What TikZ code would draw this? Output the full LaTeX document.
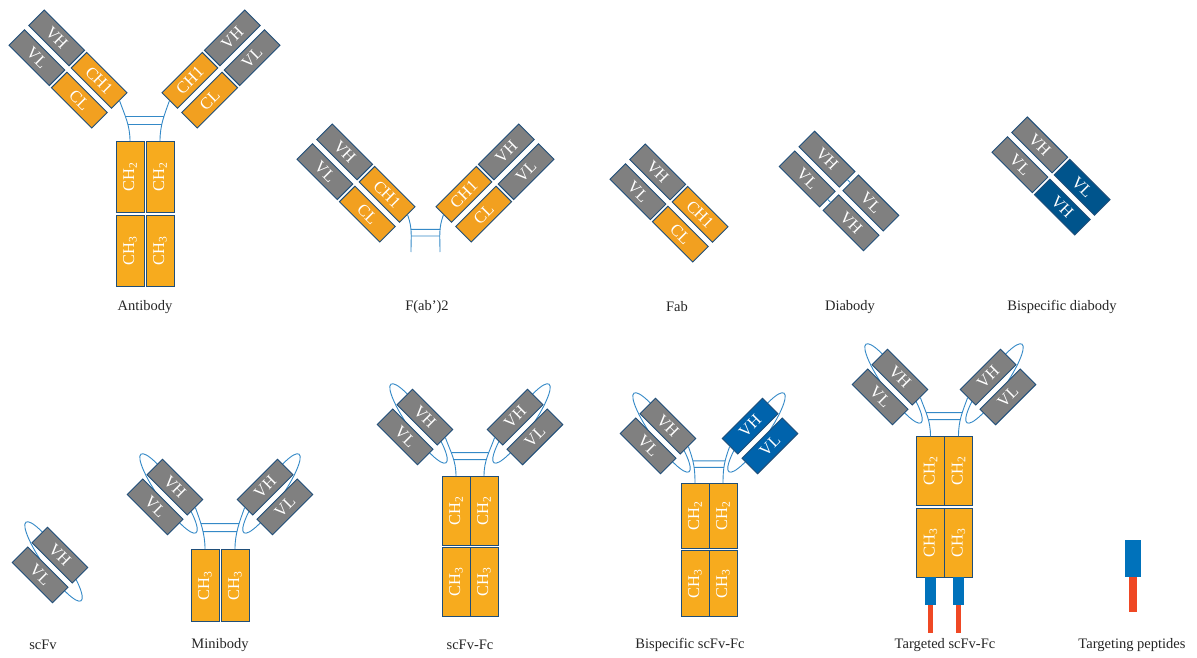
\documentclass[tikz,border=0pt]{standalone}
\usepackage{fontspec}
\setmainfont{Liberation Serif}
\usetikzlibrary{positioning}

\definecolor{domgray}{RGB}{128,128,128}
\definecolor{domedge}{RGB}{31,78,121}
\definecolor{armorange}{RGB}{242,160,32}
\definecolor{fcorange}{RGB}{247,171,30}
\definecolor{linkblue}{RGB}{52,137,199}
\definecolor{dbblue}{RGB}{0,84,140}
\definecolor{bsblue}{RGB}{0,99,172}
\definecolor{tagblue}{RGB}{0,114,187}
\definecolor{tagred}{RGB}{239,72,36}

\newcommand\boxfont{\fontsize{16.5}{17}\selectfont}
\newcommand\labfont{\fontsize{14.5}{16}\selectfont}

% Fab arm: name, centre, angle, x of VH/VL, x of CH1/CL
\newcommand\fabarm[5]{%
  \begin{scope}[shift={#2},rotate=#3,transform shape]
    \node[vdom] (#1-vh) at (#4,-14) {VH};
    \node[vdom] (#1-vl) at (#4,14) {VL};
    \node[cdom] (#1-ch) at (#5,-14) {CH1};
    \node[cdom] (#1-cl) at (#5,14) {CL};
  \end{scope}}

% scFv: name, centre, angle, tilt of the linker loop, box style
\newcommand\scfvpair[5]{%
  \begin{scope}[shift={#2},rotate=#3,transform shape]
    \draw[link,rotate around={#4:(0,-5)}] (0,-5) ellipse [x radius=48pt,y radius=10pt];
    \node[#5] (#1-vh) at (0,-14) {VH};
    \node[#5] (#1-vl) at (0,14) {VL};
  \end{scope}}

% hinge with two disulfide bridges
\newcommand\hingelink[5]{%
  \draw[link] (#2) .. controls +(5,14) and +(0,-16) .. (#3)
    coordinate[pos=.4] (#1-l1) coordinate[pos=.6] (#1-l2);
  \draw[link] (#4) .. controls +(-5,14) and +(0,-16) .. (#5)
    coordinate[pos=.4] (#1-r1) coordinate[pos=.6] (#1-r2);
  \draw[link] (#1-l1) -- (#1-r1) (#1-l2) -- (#1-r2);}

\begin{document}
\begin{tikzpicture}[x=1pt,y=-1pt,
  dom/.style={draw=domedge,line width=.9pt,inner sep=0pt,minimum width=57pt,
    minimum height=22pt,text=white,font=\boxfont},
  vdom/.style={dom,fill=domgray},
  cdom/.style={dom,fill=armorange},
  ddom/.style={dom,fill=dbblue},
  bdom/.style={dom,fill=bsblue},
  fc/.style={dom,fill=fcorange,rotate=90,minimum height=28pt},
  tail/.style={inner sep=0pt,outer sep=0pt},
  link/.style={draw=linkblue,line width=.9pt},
  lab/.style={font=\labfont,text=black!85}]
\fill[white,use as bounding box] (0,0) rectangle (1197,658);

% antibody
\fabarm{abl}{(68,69)}{-45}{-30}{30}
\fabarm{abr}{(221,69)}{45}{30}{-30}
\node[fc,minimum width=71pt] (ab-2l) at (130,177) {CH\textsubscript{2}};
\node[fc,minimum width=71pt] (ab-2r) at (160,177) {CH\textsubscript{2}};
\node[fc,minimum width=71pt] (ab-3l) at (130,251) {CH\textsubscript{3}};
\node[fc,minimum width=71pt] (ab-3r) at (160,251) {CH\textsubscript{3}};
\hingelink{ab}{abl-ch.east}{ab-2l.east}{abr-ch.west}{ab-2r.east}
\node[lab] (ab-lab) at (145,307) {Antibody};

% F(ab')2
\fabarm{fl}{(356,183)}{-45}{-30}{30}
\fabarm{fr}{(495,183)}{45}{30}{-30}
\coordinate (f-el) at (411,252);
\coordinate (f-er) at (440,252);
\hingelink{f}{fl-ch.east}{f-el}{fr-ch.west}{f-er}
\node[lab] (f-lab) at (427,307) {F(ab’)2};

% Fab
\fabarm{fab}{(669,203)}{-45}{-30}{30}
\node[lab] (fab-lab) at (677,307) {Fab};

% diabody
\begin{scope}[shift={(839,191)},rotate=-45,transform shape]
  \node[vdom] (db-vh1) at (-31,-14) {VH};
  \node[vdom] (db-vl1) at (-31,14) {VL};
  \node[vdom] (db-vl2) at (31,-14) {VL};
  \node[vdom] (db-vh2) at (31,14) {VH};
\end{scope}
\draw[link] (db-vh1.east) -- (db-vl2.west) (db-vl1.east) -- (db-vh2.west);
\node[lab] (db-lab) at (850,307) {Diabody};

% bispecific diabody
\begin{scope}[shift={(1051,176)},rotate=-45,transform shape]
  \node[vdom] (bd-vh1) at (-30,-14) {VH};
  \node[vdom] (bd-vl1) at (-30,14) {VL};
  \node[ddom] (bd-vl2) at (30,-14) {VL};
  \node[ddom] (bd-vh2) at (30,14) {VH};
\end{scope}
\node[lab] (bd-lab) at (1062,307) {Bispecific diabody};

% scFv
\scfvpair{sc}{(50,565)}{-45}{-10}{vdom}
\node[lab] (sc-lab) at (43,645) {scFv};

% minibody
\scfvpair{mbl}{(165,497)}{-45}{-10}{vdom}
\scfvpair{mbr}{(275,497)}{45}{10}{vdom}
\node[fc,minimum width=72pt] (mb-3l) at (205,585.5) {CH\textsubscript{3}};
\node[fc,minimum width=72pt] (mb-3r) at (235,585.5) {CH\textsubscript{3}};
\hingelink{mb}{mbl-vh.east}{mb-3l.east}{mbr-vh.west}{mb-3r.east}
\node[lab] (mb-lab) at (220,645) {Minibody};

% scFv-Fc
\scfvpair{sfl}{(415,427)}{-45}{-10}{vdom}
\scfvpair{sfr}{(525,427)}{45}{10}{vdom}
\node[fc,minimum width=69pt] (sf-2l) at (456,511) {CH\textsubscript{2}};
\node[fc,minimum width=69pt] (sf-2r) at (484,511) {CH\textsubscript{2}};
\node[fc,minimum width=69pt] (sf-3l) at (456,582) {CH\textsubscript{3}};
\node[fc,minimum width=69pt] (sf-3r) at (484,582) {CH\textsubscript{3}};
\hingelink{sf}{sfl-vh.east}{sf-2l.east}{sfr-vh.west}{sf-2r.east}
\node[lab] (sf-lab) at (470,645) {scFv-Fc};

% bispecific scFv-Fc
\scfvpair{bsl}{(658,436)}{-45}{-10}{vdom}
\scfvpair{bsr}{(760,436)}{45}{10}{bdom}
\node[fc,minimum width=65pt] (bs-2l) at (695,516) {CH\textsubscript{2}};
\node[fc,minimum width=65pt] (bs-2r) at (723,516) {CH\textsubscript{2}};
\node[fc,minimum width=66pt] (bs-3l) at (695,583.5) {CH\textsubscript{3}};
\node[fc,minimum width=66pt] (bs-3r) at (723,583.5) {CH\textsubscript{3}};
\hingelink{bs}{bsl-vh.east}{bs-2l.east}{bsr-vh.west}{bs-2r.east}
\node[lab] (bs-lab) at (690,645) {Bispecific scFv-Fc};

% targeted scFv-Fc
\scfvpair{tgl}{(890,387)}{-45}{-10}{vdom}
\scfvpair{tgr}{(998,387)}{45}{10}{vdom}
\node[fc,minimum width=69pt] (tg-2l) at (930.5,471) {CH\textsubscript{2}};
\node[fc,minimum width=69pt] (tg-2r) at (958.5,471) {CH\textsubscript{2}};
\node[fc,minimum width=69pt] (tg-3l) at (930.5,542.5) {CH\textsubscript{3}};
\node[fc,minimum width=69pt] (tg-3r) at (958.5,542.5) {CH\textsubscript{3}};
\hingelink{tg}{tgl-vh.east}{tg-2l.east}{tgr-vh.west}{tg-2r.east}
\node[tail,fill=tagblue,minimum width=11pt,minimum height=28pt,below=0pt of tg-3l.west] (tg-b1) {};
\node[tail,fill=tagblue,minimum width=11pt,minimum height=28pt,below=0pt of tg-3r.west] (tg-b2) {};
\node[tail,fill=tagred,minimum width=5pt,minimum height=28pt,below=0pt of tg-b1] (tg-r1) {};
\node[tail,fill=tagred,minimum width=5pt,minimum height=28pt,below=0pt of tg-b2] (tg-r2) {};
\node[lab] (tg-lab) at (945,645) {Targeted scFv-Fc};

% targeting peptide
\node[tail,fill=tagblue,minimum width=16pt,minimum height=37pt] (tp-b) at (1133,558.5) {};
\node[tail,fill=tagred,minimum width=8pt,minimum height=35pt,below=0pt of tp-b] (tp-r) {};
\node[lab] (tp-lab) at (1132,645) {Targeting peptides};
\end{tikzpicture}
\end{document}
